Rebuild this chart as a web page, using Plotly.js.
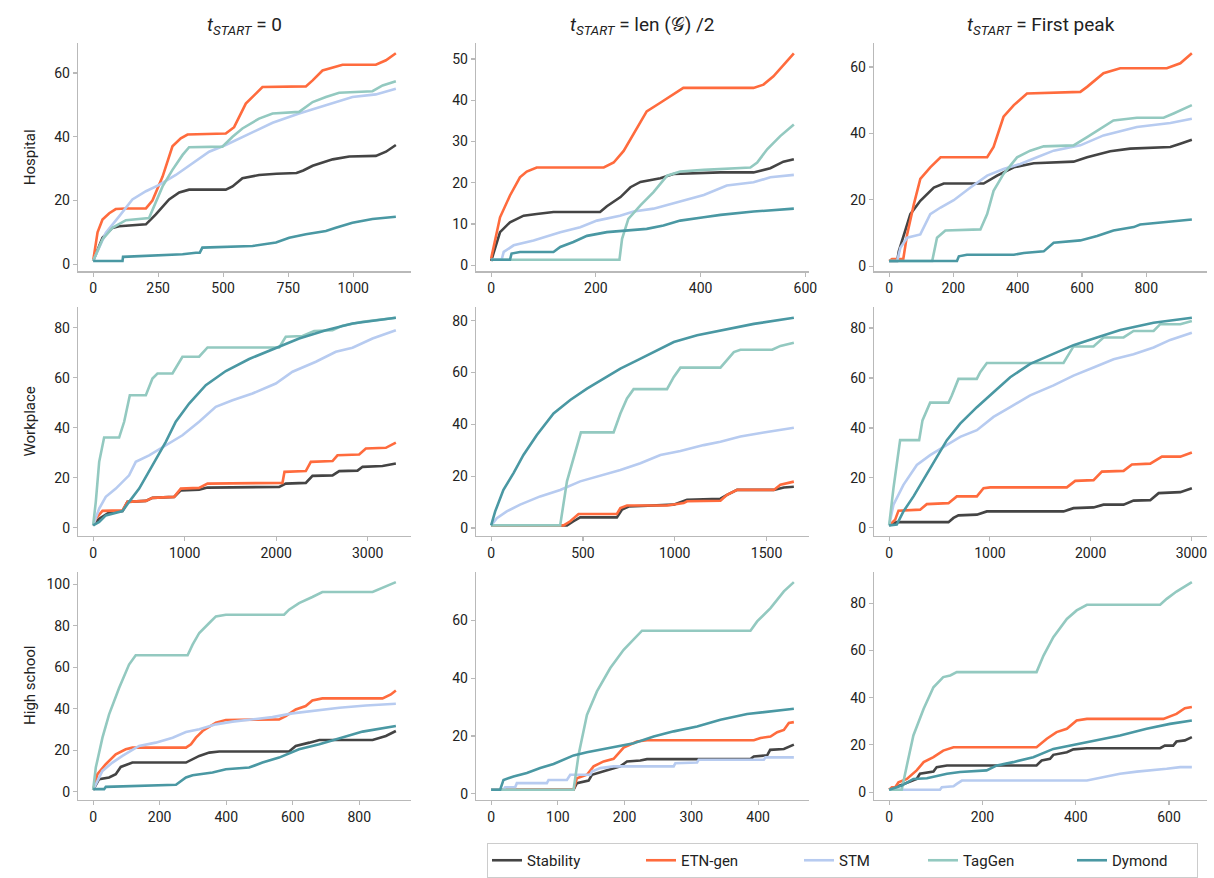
<!DOCTYPE html>
<html>
<head>
<meta charset="utf-8">
<script src="https://cdn.plot.ly/plotly-3.0.1.min.js"></script>
<style>html,body{margin:0;padding:0;background:#fff;}</style>
</head>
<body>
<div id="chart" style="width:1214px;height:878px;"></div>
<script>
// ---------- DATA (points as [time, value]) ----------
const seriesNames = ["Stability", "ETN-gen", "STM", "TagGen", "Dymond"];
const rowLabels = ["Hospital", "Workplace", "High school"];
const colTitles = ["<i>t</i><sub><i>START</i></sub> = 0", "<i>t</i><sub><i>START</i></sub> = len (𝒢) /2", "<i>t</i><sub><i>START</i></sub> = First peak"];
const xTickStep = [[250, 200, 200], [1000, 500, 1000], [200, 100, 200]];
const yTickStep = [[20, 10, 20], [20, 20, 20], [20, 20, 20]];

// Hospital, t_START = 0
const hosp_t0_stability = [[0,1],[36,8.3],[74,11.4],[100,11.9],[203,12.5],[241,15.6],[292,20.3],[331,22.5],[369,23.4],[510,23.4],[536,24.4],[574,27],[638,28],[705,28.4],[782,28.6],[808,29.4],[844,30.9],[921,32.9],[985,33.8],[1087,34],[1126,35.3],[1164,37.4]];
const hosp_t0_etn = [[0,1],[8,6],[17,10],[36,14],[62,16],[87,17.3],[126,17.5],[203,17.5],[228,20],[267,27.5],[305,37],[337,39.5],[363,40.7],[510,41],[542,43],[587,50.4],[651,55.6],[818,55.8],[844,57.7],[882,60.8],[959,62.6],[1087,62.6],[1126,64],[1164,66.2]];
const hosp_t0_stm = [[0,1],[49,9.9],[100,15],[151,20.3],[203,22.9],[254,24.9],[318,28],[382,31.7],[446,35.3],[510,37.4],[600,41],[690,44.4],[792,47.3],[895,49.9],[997,52.5],[1087,53.3],[1164,55.1]];
const hosp_t0_taggen = [[0,1],[36,7.8],[74,11.4],[126,13.8],[215,14.5],[241,19.2],[267,24.4],[305,29.6],[344,34.3],[369,36.7],[497,36.9],[536,40],[574,42.6],[638,45.7],[690,47.3],[792,47.8],[844,50.9],[895,52.5],[946,53.8],[1074,54.3],[1113,56.1],[1164,57.4]];
const hosp_t0_dymond = [[0,1],[113,1],[115,2.3],[279,2.8],[344,3.1],[395,3.6],[410,3.6],[420,5.2],[613,5.7],[703,6.8],[754,8.3],[818,9.4],[895,10.4],[933,11.4],[997,13],[1074,14.2],[1164,14.9]];

// Hospital, t_START = len(G)/2
const hosp_half_stability = [[0,1],[8,4.4],[17,8],[36,10.4],[62,12],[87,12.4],[119,12.9],[208,12.9],[221,14.3],[247,16.5],[266,18.9],[285,20.2],[323,21.1],[348,22.1],[438,22.5],[501,22.5],[533,23.5],[558,25.1],[578,25.7]];
const hosp_half_etn = [[0,1.6],[8,6.4],[17,11.6],[36,16.9],[55,21.3],[68,22.7],[87,23.7],[215,23.7],[234,24.9],[253,27.7],[278,33.3],[297,37.3],[323,39.4],[348,41.5],[367,43],[501,43],[520,43.8],[539,45.8],[558,48.6],[578,51.4]];
const hosp_half_stm = [[0,1.3],[20,1.3],[24,3.2],[43,4.8],[81,6],[100,6.8],[132,8],[170,9.2],[202,10.8],[246,12],[272,13],[310,13.7],[361,15.5],[406,17],[450,19.3],[501,20.1],[533,21.3],[578,21.9]];
const hosp_half_taggen = [[0,1.3],[245,1.3],[250,6.4],[262,11.2],[285,14.5],[310,17.7],[336,21.7],[361,22.7],[406,23.1],[495,23.7],[508,24.9],[527,28.1],[552,31.3],[578,34.1]];
const hosp_half_dymond = [[0,1.3],[36,1.3],[39,2.8],[55,3.2],[119,3.2],[132,4.4],[157,5.6],[183,7.1],[221,8],[297,8.8],[329,9.6],[361,10.8],[406,11.6],[438,12.2],[501,13],[578,13.7]];

// Hospital, t_START = first peak
const hosp_peak_stability = [[0,1.6],[25,1.6],[30,4.5],[46,9.6],[66,15.7],[97,19.7],[139,23.7],[170,24.9],[294,24.9],[336,27.3],[388,29.8],[450,31],[574,31.5],[616,32.8],[688,34.6],[750,35.4],[875,35.9],[906,36.9],[942,38.1]];
const hosp_peak_etn = [[0,1.6],[9,2.2],[44,2.2],[56,9.6],[77,18.7],[97,26.3],[128,29.8],[160,32.8],[305,32.8],[325,35.9],[356,45],[388,48.5],[429,52],[595,52.5],[616,54],[667,58.1],[719,59.6],[864,59.6],[906,61.1],[942,64.1]];
const hosp_peak_stm = [[0,1.6],[25,1.6],[35,5.6],[56,8.6],[97,9.6],[128,15.7],[160,17.7],[201,19.9],[253,23.7],[305,27.3],[356,29.3],[408,30.8],[460,32.8],[512,34.8],[595,36.4],[667,39.4],[771,41.9],[875,43.1],[942,44.4]];
const hosp_peak_taggen = [[0,1.6],[134,1.6],[149,8.6],[175,10.8],[284,11.1],[305,15.7],[325,22.7],[356,27.8],[398,32.8],[439,34.8],[481,36.1],[574,36.4],[616,38.9],[657,41.4],[698,43.9],[771,44.7],[854,44.7],[885,46],[942,48.5]];
const hosp_peak_dymond = [[0,1.6],[211,1.6],[217,3],[242,3.5],[388,3.5],[419,4],[481,4.5],[512,7.1],[595,7.8],[647,9.1],[698,10.8],[761,11.8],[781,12.6],[864,13.4],[942,14.1]];

// Workplace, t_START = 0
const work_t0_stability = [[0,1],[66,3.7],[175,6.1],[321,6.7],[375,10.4],[576,10.8],[648,12],[885,12.4],[958,15],[1158,15.3],[1250,16.1],[2033,16.4],[2105,17.7],[2324,18],[2397,20.8],[2616,21],[2689,22.7],[2889,22.9],[2944,24.4],[3162,24.7],[3308,25.7]];
const work_t0_etn = [[0,1],[29,3.7],[102,6.8],[321,7],[375,10.4],[576,10.8],[648,12],[885,12.4],[958,15.7],[1158,16],[1250,17.7],[2069,18],[2091,22.4],[2324,22.7],[2379,26.4],[2616,26.7],[2670,29],[2907,29.3],[2980,31.7],[3198,32],[3308,34.1]];
const work_t0_stm = [[0,1],[66,7.7],[138,12.4],[248,15.7],[393,21],[466,26.4],[612,29],[794,33],[976,37],[1158,42.4],[1340,48.4],[1523,51],[1741,53.7],[1996,57.7],[2179,62.4],[2434,66.4],[2652,70.4],[2834,72],[3053,75.7],[3308,79]];
const work_t0_taggen = [[0,1],[29,10.4],[66,26.4],[120,36.1],[284,36.1],[339,42.4],[401,53],[576,53],[648,59.7],[703,61.7],[867,61.7],[976,68.4],[1158,68.4],[1250,72.1],[2033,72.1],[2105,76.4],[2288,76.7],[2415,78.7],[2616,79],[2725,80.8],[2944,82.4],[3308,84]];
const work_t0_dymond = [[0,1],[66,2.4],[138,5],[248,6.1],[321,6.7],[393,10.4],[503,15.7],[648,25],[794,34.4],[903,42.4],[1049,49.7],[1231,57],[1450,62.7],[1705,67.5],[1996,72],[2251,75.7],[2543,79],[2834,81.7],[3308,84]];

// Workplace, t_START = len(G)/2
const work_half_stability = [[0,1],[413,1],[449,2.6],[485,4.1],[685,4.1],[713,7.1],[749,8.3],[994,9],[1067,10.9],[1249,11.3],[1285,12.8],[1340,14.7],[1540,14.7],[1594,15.6],[1649,15.9]];
const work_half_etn = [[0,1],[395,1],[431,2.6],[476,5.4],[685,5.4],[704,7.7],[740,8.7],[958,8.7],[1049,9.6],[1067,10.3],[1249,10.5],[1285,12.8],[1340,14.7],[1540,14.7],[1576,16.7],[1649,17.9]];
const work_half_stm = [[0,1],[31,3.8],[85,6.4],[158,9],[267,12.2],[376,14.7],[485,18],[576,19.9],[704,22.4],[813,25],[922,28.2],[1031,29.7],[1158,32],[1249,33.3],[1358,35.3],[1485,36.9],[1649,38.7]];
const work_half_taggen = [[0,1],[376,1],[413,18],[489,36.9],[667,36.9],[704,44.2],[740,50],[776,53.6],[958,53.6],[995,58.3],[1031,61.9],[1249,61.9],[1322,67.9],[1358,68.8],[1531,68.8],[1576,70.3],[1649,71.5]];
const work_half_dymond = [[0,1],[22,6.4],[67,14.7],[122,21.2],[176,28.2],[249,35.9],[340,44.2],[431,49.4],[522,53.8],[613,57.7],[704,61.5],[795,64.7],[885,67.9],[995,71.8],[1122,74.4],[1249,76.3],[1431,78.8],[1649,81.2]];

// Workplace, t_START = first peak
const work_peak_stability = [[0,1],[76,2.3],[589,2.3],[639,4],[688,5],[871,5.3],[970,6.6],[1731,6.6],[1830,7.9],[2029,8.2],[2128,9.3],[2327,9.3],[2426,10.9],[2592,11.1],[2675,13.9],[2890,14.3],[3005,15.9]];
const work_peak_etn = [[0,1],[60,3.3],[93,6.9],[308,7.3],[374,9.5],[589,9.9],[672,12.6],[871,12.6],[937,15.9],[1003,16.2],[1764,16.2],[1847,18.8],[2029,19.1],[2112,22.5],[2327,22.8],[2410,25.4],[2592,25.7],[2708,28.5],[2890,28.5],[3005,30.2]];
const work_peak_stm = [[0,1],[43,9.3],[142,17.2],[275,25.2],[407,29.1],[540,32.5],[705,36.4],[871,39.1],[1036,44.4],[1202,48.3],[1400,53],[1632,57],[1830,60.9],[2029,64.2],[2228,67.5],[2426,69.5],[2625,72.2],[2790,75.2],[3005,78.1]];
const work_peak_taggen = [[0,1],[43,15.9],[109,35.1],[298,35.1],[331,43],[407,50.1],[589,50.1],[622,53],[688,59.6],[870,59.6],[904,62.3],[970,66],[1731,66],[1830,72.6],[2029,72.6],[2128,76.2],[2327,76.2],[2426,78.8],[2625,78.8],[2691,81.5],[2890,81.5],[3005,82.8]];
const work_peak_dymond = [[0,1],[76,1.3],[142,6.6],[242,12.6],[407,23.8],[573,35.1],[705,41.7],[871,48.3],[1036,54.3],[1202,60.3],[1400,65.6],[1632,69.5],[1830,73.1],[2062,76.2],[2294,79.2],[2625,82.1],[3005,84.1]];

// High school, t_START = 0
const school_t0_stability = [[0,1],[18,6.1],[48,6.9],[68,8.5],[83,12],[118,14.1],[279,14.1],[319,17.3],[349,18.9],[379,19.4],[589,19.4],[609,22.1],[650,23.7],[680,25],[840,25],[880,26.9],[910,29.3]];
const school_t0_etn = [[0,1],[13,8.5],[38,13.3],[68,18.1],[98,20.5],[118,21.3],[279,21.3],[294,22.9],[309,26.1],[329,29.3],[369,33.3],[399,34.6],[559,34.9],[579,36.5],[609,39.7],[639,41.3],[659,44],[689,45],[870,45],[895,46.9],[910,48.8]];
const school_t0_stm = [[0,1],[28,10.1],[58,14.1],[88,17.3],[138,22.1],[188,23.7],[239,26.1],[279,28.8],[319,30.1],[369,32.5],[419,33.8],[479,34.9],[539,36],[599,37.8],[669,39.2],[740,40.5],[820,41.6],[910,42.4]];
const school_t0_taggen = [[0,1],[8,11.7],[28,26.1],[48,37.3],[78,50],[108,61.3],[128,65.8],[284,65.8],[299,70.9],[319,76.5],[349,81.3],[369,84.5],[399,85.3],[574,85.3],[589,87.7],[619,90.9],[659,93.8],[689,96.2],[840,96.2],[870,98.1],[910,101]];
const school_t0_dymond = [[0,1.3],[33,1.3],[38,2.4],[219,3.4],[249,3.4],[279,6.9],[299,8],[359,9.3],[399,10.9],[469,11.7],[509,14.1],[559,16.5],[619,20.5],[680,22.9],[750,26.1],[810,29],[910,31.7]];

// High school, t_START = len(G)/2
const school_half_stability = [[0,1.4],[123.5,1.4],[128.5,3.7],[146,4.6],[151,6.6],[173.5,8],[193.5,9.5],[203.5,11.2],[223.5,11.5],[233.5,12],[388.5,12],[393.5,12.9],[413.5,13.3],[418,15.2],[438.5,15.5],[453.5,17]];
const school_half_etn = [[0,1.4],[123.5,1.4],[128.5,5.4],[143.5,6.6],[153.5,9.5],[168.5,11.2],[183.5,12.1],[198.5,16],[218.5,18.1],[233.5,18.5],[393.5,18.5],[403.5,19.3],[418.5,19.8],[428.5,21.3],[438.5,22.1],[446,24.5],[453.5,24.8]];
const school_half_stm = [[0,1.4],[18.5,1.4],[21,2.3],[36,2.3],[38.5,3.7],[83.5,3.7],[86,4.8],[113.5,4.8],[118.5,6.6],[148.5,6.6],[151,7.7],[163.5,8.9],[183.5,9.5],[273.5,9.5],[276,10.6],[308.5,10.8],[311,11.8],[408.5,11.8],[411,12.6],[453.5,12.6]];
const school_half_taggen = [[0,1.4],[123.5,1.4],[131,13.5],[143.5,27.3],[158.5,35.4],[178.5,43.5],[198.5,49.8],[213.5,53.3],[226,56.4],[388.5,56.4],[398.5,59.6],[418.5,64.2],[438.5,70],[453.5,73.2]];
const school_half_dymond = [[0,1.4],[13.5,1.4],[18.5,4.8],[33.5,6],[53.5,7.2],[73.5,8.9],[93.5,10.3],[108.5,11.8],[123.5,13.3],[143.5,14.4],[173.5,15.8],[213.5,17.5],[243.5,19.8],[273.5,21.6],[308.5,23.3],[343.5,25.6],[383.5,27.6],[423.5,28.7],[453.5,29.4]];

// High school, t_START = first peak
const school_peak_stability = [[0,1],[31,3.5],[59,5.6],[66,7.8],[95,8.7],[102,10.6],[124,11.3],[316,11.3],[327,13.4],[345,14.1],[352,15.8],[381,16.9],[395,18.1],[424,18.6],[581,18.6],[591,19.7],[609,19.7],[616,21.4],[634,21.9],[649,23.3]];
const school_peak_etn = [[0,1],[6,2.1],[13,2.1],[20,4.2],[38,5.6],[59,9.2],[74,12.7],[95,14.8],[116,17.6],[138,19],[316,19],[338,22.6],[359,25.4],[381,26.8],[402,30.3],[424,31],[588,31],[616,33.1],[634,35.5],[649,36]];
const school_peak_stm = [[0,1],[109,1],[113,2.1],[138,2.5],[145,3.5],[156,4.9],[424,4.9],[459,6.3],[495,7.8],[531,8.7],[566,9.2],[595,9.9],[624,10.6],[649,10.6]];
const school_peak_taggen = [[0,1],[27,1],[38,11.3],[52,24],[74,35.3],[95,44.4],[116,48.7],[131,49.4],[145,50.8],[316,50.8],[331,57.8],[352,65.6],[381,73.3],[402,76.9],[424,79.3],[581,79.3],[595,81.8],[616,84.9],[649,88.9]];
const school_peak_dymond = [[0,1],[27,2.8],[52,5.6],[81,5.9],[124,7.8],[152,8.5],[209,9.2],[231,11.3],[266,12.7],[309,14.8],[352,18.3],[395,20],[438,21.6],[495,24],[552,26.8],[602,28.9],[649,30.3]];

const panels = [
  [hosp_t0_stability, hosp_t0_etn, hosp_t0_stm, hosp_t0_taggen, hosp_t0_dymond],
  [hosp_half_stability, hosp_half_etn, hosp_half_stm, hosp_half_taggen, hosp_half_dymond],
  [hosp_peak_stability, hosp_peak_etn, hosp_peak_stm, hosp_peak_taggen, hosp_peak_dymond],
  [work_t0_stability, work_t0_etn, work_t0_stm, work_t0_taggen, work_t0_dymond],
  [work_half_stability, work_half_etn, work_half_stm, work_half_taggen, work_half_dymond],
  [work_peak_stability, work_peak_etn, work_peak_stm, work_peak_taggen, work_peak_dymond],
  [school_t0_stability, school_t0_etn, school_t0_stm, school_t0_taggen, school_t0_dymond],
  [school_half_stability, school_half_etn, school_half_stm, school_half_taggen, school_half_dymond],
  [school_peak_stability, school_peak_etn, school_peak_stm, school_peak_taggen, school_peak_dymond]
];

// ---------- STYLE ----------
const colors = ["#444444", "#FF6B3D", "#B7CBF0", "#93C9C0", "#4A98A3"];
const legendWidths = [109, 113, 79, 104, 80];
const FONT = "Roboto, 'Liberation Sans', sans-serif";
const W = 1214, H = 878;
const colPx = [[78, 411], [476, 809], [874, 1207]];
const rowPx = [[43, 272], [308, 537], [573, 802]];
const axisColor = "#b9b9b9";

const traces = [];
const layout = {
  width: W, height: H, autosize: false,
  margin: {l: 0, r: 0, t: 0, b: 0},
  paper_bgcolor: "#fff", plot_bgcolor: "#fff",
  font: {family: FONT, size: 14, color: "#222"},
  showlegend: true,
  legend: {
    orientation: "h", x: 487 / W, y: 1 - 845 / H, xanchor: "left", yanchor: "top",
    bgcolor: "#fff", bordercolor: "#cccccc", borderwidth: 1,
    font: {family: FONT, size: 15, color: "#222"},
    entrywidthmode: "pixels"
  },
  annotations: []
};

for (let r = 0; r < 3; r++) {
  for (let c = 0; c < 3; c++) {
    const idx = r * 3 + c;
    const n = idx + 1;
    const xa = n === 1 ? "x" : "x" + n;
    const ya = n === 1 ? "y" : "y" + n;
    let xmin = Infinity, xmax = -Infinity, ymin = Infinity, ymax = -Infinity;
    panels[idx].forEach((pts, s) => {
      const xs = pts.map(p => p[0]);
      const ys = pts.map(p => p[1]);
      xmin = Math.min(xmin, ...xs); xmax = Math.max(xmax, ...xs);
      ymin = Math.min(ymin, ...ys); ymax = Math.max(ymax, ...ys);
      traces.push({
        type: "scatter", mode: "lines", x: xs, y: ys, xaxis: xa, yaxis: ya,
        name: seriesNames[s], legendgroup: seriesNames[s], showlegend: idx === 0,
        legendwidth: legendWidths[s],
        line: {color: colors[s], width: 2.6},
        hoverinfo: "skip"
      });
    });
    const xs = xmax - xmin, ys = ymax - ymin;
    const axCommon = {
      showline: true, linecolor: axisColor, linewidth: 1.2,
      ticks: "outside", ticklen: 4, tickwidth: 1.2, tickcolor: axisColor,
      showgrid: false, zeroline: false, tick0: 0,
      tickfont: {family: FONT, size: 14, color: "#222"}
    };
    layout["xaxis" + (n === 1 ? "" : n)] = Object.assign({}, axCommon, {
      domain: [colPx[c][0] / W, colPx[c][1] / W], anchor: ya,
      range: [xmin - 0.05 * xs, xmax + 0.05 * xs], dtick: xTickStep[r][c]
    });
    layout["yaxis" + (n === 1 ? "" : n)] = Object.assign({}, axCommon, {
      domain: [1 - rowPx[r][1] / H, 1 - rowPx[r][0] / H], anchor: xa,
      range: [ymin - 0.05 * ys, ymax + 0.05 * ys], dtick: yTickStep[r][c]
    });
  }
}

colTitles.forEach((t, c) => {
  layout.annotations.push({
    text: t, xref: "paper", yref: "paper", showarrow: false,
    x: (colPx[c][0] + colPx[c][1]) / 2 / W, y: 1 - 26 / H, xanchor: "center", yanchor: "middle",
    font: {family: FONT, size: 19, color: "#222"}
  });
});
rowLabels.forEach((t, r) => {
  layout.annotations.push({
    text: t, xref: "paper", yref: "paper", showarrow: false, textangle: -90,
    x: 30 / W, y: 1 - (rowPx[r][0] + rowPx[r][1]) / 2 / H, xanchor: "center", yanchor: "middle",
    font: {family: FONT, size: 15, color: "#222"}
  });
});

Plotly.newPlot("chart", traces, layout, {staticPlot: true, displayModeBar: false});
</script>
</body>
</html>
